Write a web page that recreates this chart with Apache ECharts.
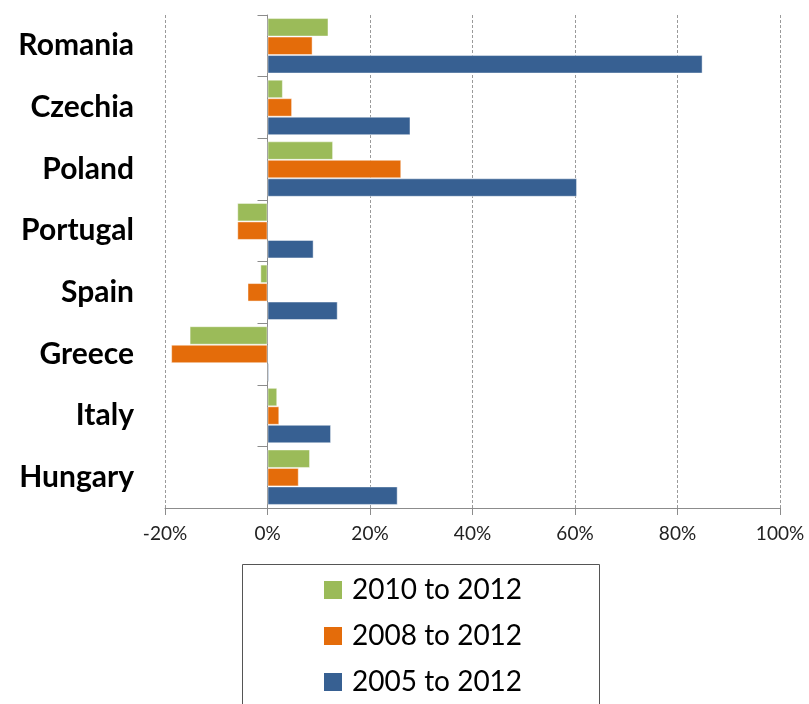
<!DOCTYPE html>
<html>
<head>
<meta charset="utf-8">
<script src="https://cdn.jsdelivr.net/npm/echarts@6/dist/echarts.min.js"></script>
<style>
  html, body { margin: 0; padding: 0; background: #fff; }
  #chart { width: 809px; height: 704px; }
</style>
</head>
<body>
<div id="chart"></div>
<script>
// Countries, top to bottom
const countries = ['Romania', 'Czechia', 'Poland', 'Portugal', 'Spain', 'Greece', 'Italy', 'Hungary'];

// Percentage change over each period
const change2010to2012 = [11.9, 3.0, 12.8, -5.9, -1.4, -15.2, 1.9, 8.3];
const change2008to2012 = [8.8, 4.8, 26.1, -5.9, -3.9, -18.8, 2.3, 6.1];
const change2005to2012 = [84.9, 27.9, 60.4, 9.0, 13.7, 0.3, 12.4, 25.4];

const seriesNames = ['2010 to 2012', '2008 to 2012', '2005 to 2012'];
const seriesColors = ['#9BBB59', '#E46C0A', '#376092'];
const seriesValues = [change2010to2012, change2008to2012, change2005to2012];

const FONT = 'Lato';

const chart = echarts.init(document.getElementById('chart'), null, { renderer: 'canvas' });

chart.setOption({
  backgroundColor: '#ffffff',
  animation: false,
  textStyle: { fontFamily: FONT },
  grid: { left: 165, right: 29, top: 15, bottom: 196, containLabel: false },
  xAxis: {
    type: 'value',
    min: -20,
    max: 100,
    interval: 20,
    axisLine: { show: true, lineStyle: { color: '#8c8c8c', width: 1 } },
    axisTick: { show: true, length: 7, lineStyle: { color: '#8c8c8c' } },
    axisLabel: {
      formatter: '{value}%',
      color: '#222',
      fontSize: 19,
      fontFamily: FONT,
      margin: 16
    },
    splitLine: { show: true, lineStyle: { color: '#9a9a9a', type: [3, 2], width: 1 } }
  },
  yAxis: [
    {
      // labels on the left edge of the plot
      type: 'category',
      data: countries,
      inverse: true,
      axisLine: { show: false, onZero: false },
      axisTick: { show: false },
      axisLabel: {
        color: '#000',
        fontSize: 30,
        fontWeight: 'bold',
        fontFamily: FONT,
        margin: 31
      },
      splitLine: { show: false }
    },
    {
      // baseline at 0% with ticks between countries
      type: 'category',
      data: countries,
      inverse: true,
      position: 'left',
      axisLine: { show: true, onZero: true, lineStyle: { color: '#8c8c8c', width: 1 } },
      axisTick: { show: true, length: 10, lineStyle: { color: '#8c8c8c' } },
      axisLabel: { show: false },
      splitLine: { show: false }
    }
  ],
  legend: {
    orient: 'vertical',
    left: 324,
    top: 576,
    padding: 0,
    itemWidth: 18,
    itemHeight: 18,
    itemGap: 18,
    icon: 'rect',
    data: seriesNames,
    itemStyle: { borderWidth: 0 },
    textStyle: {
      color: '#000',
      fontSize: 28,
      fontFamily: FONT,
      lineHeight: 28,
      padding: [0, 0, 0, 5]
    }
  },
  graphic: [
    {
      type: 'rect',
      shape: { x: 242.5, y: 564.5, width: 357, height: 200 },
      style: { fill: 'none', stroke: '#555', lineWidth: 1 },
      silent: true,
      z: -1
    }
  ],
  series: seriesNames.map((name, i) => ({
    name: name,
    type: 'bar',
    yAxisIndex: 0,
    data: seriesValues[i],
    barGap: '0%',
    barCategoryGap: '10%',
    itemStyle: {
      color: seriesColors[i],
      borderColor: 'rgba(255,255,255,0.45)',
      borderWidth: 1
    }
  }))
});
</script>
</body>
</html>
